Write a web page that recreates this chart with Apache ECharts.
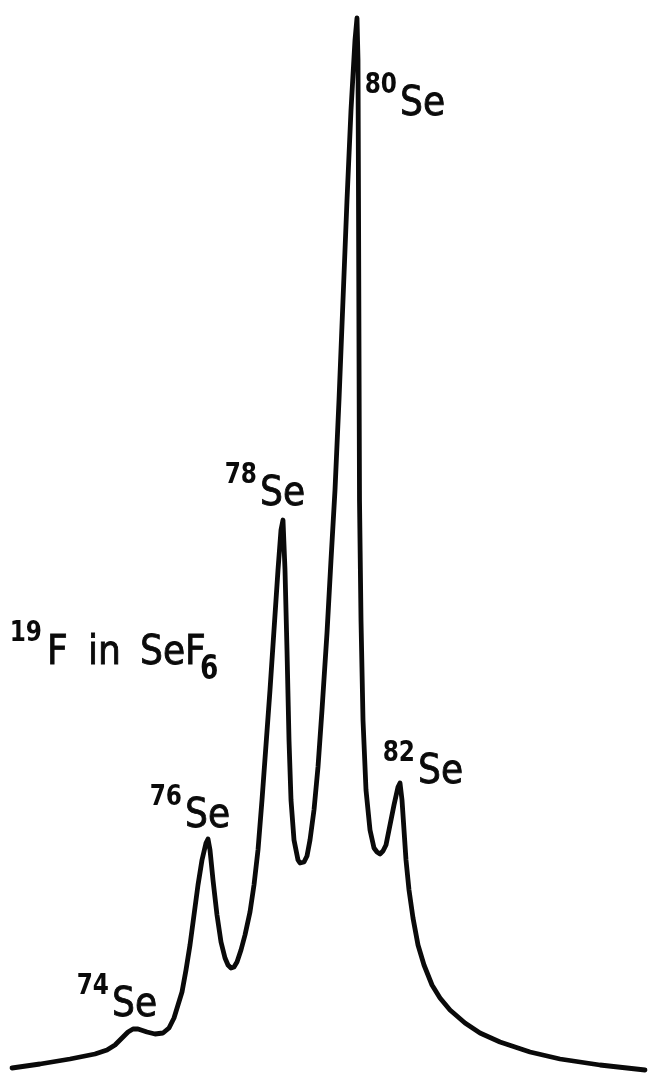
<!DOCTYPE html>
<html>
<head>
<meta charset="utf-8">
<script src="https://cdn.jsdelivr.net/npm/echarts@6/dist/echarts.min.js"></script>
<style>
  html, body { margin: 0; padding: 0; background: #ffffff; }
  #chart { width: 652px; height: 1077px; }
</style>
</head>
<body>
<div id="chart"></div>
<script>
// 19F NMR trace of SeF6: chemical shift position (arbitrary units) and signal height
const shift = [
  12, 40, 70, 95, 107, 115, 122, 128, 133, 138, 147, 155, 163, 169, 174, 178,
  182, 186, 190, 194, 198, 202, 206, 208, 210, 213, 217, 221, 225, 228, 231, 234, 237,
  241, 245, 250, 254, 258, 262, 266, 270, 274, 278, 281, 283, 285, 287, 289, 291,
  294, 298, 300, 302, 304, 307, 310, 314, 318, 322, 327, 331, 335, 339, 343, 347, 351, 355,
  357, 358, 358.5, 359, 359.5, 361, 363, 366, 370, 374, 377, 380, 383, 386, 389, 394, 398, 400,
  402, 404, 406, 409, 413, 418, 424, 432, 440, 450, 465, 480, 500, 530, 560, 600, 645
];
const signal = [
  9, 13, 18, 23, 27, 32, 39, 45, 48, 48, 45, 43, 44, 49, 59, 72,
  85, 107, 132, 162, 192, 217, 234, 238, 227, 197, 162, 135, 119, 112, 109, 110, 115,
  127, 142, 165, 192, 227, 277, 332, 387, 447, 507, 547, 557, 507, 427, 337, 277,
  237, 217, 214, 213, 215, 221, 237, 267, 310, 367, 444, 517, 587, 677, 777, 877, 967, 1037,
  1059, 1017, 877, 727, 577, 457, 357, 287, 247, 229, 225, 223, 226, 232, 247, 272, 290, 294,
  277, 247, 217, 187, 159, 132, 112, 92, 79, 67, 54, 44, 35, 25, 18, 12, 7
];

// isotope peaks (mass number, peak position, peak height)
const isotopes = ['74', '76', '78', '80', '82'];
const peakShift = [133, 208, 283, 357, 400];
const peakSignal = [48, 238, 557, 1059, 294];

// placement of each isotope label relative to its peak (px)
const labelDx = [-21, -23, -23, 43, 18];
const labelDy = [-10, -9, -12, 100, 3];

const INK = '#0a0a0a';
const FONT = "'DejaVu Sans', sans-serif";
const MAIN_SIZE = 41, SUP_SIZE = 29;
const MAIN_SCALE = 0.88, SUP_SCALE = 0.8;

const chart = echarts.init(document.getElementById('chart'), null, { renderer: 'canvas' });

chart.setOption({
  animation: false,
  backgroundColor: '#ffffff',
  grid: { left: 0, right: 0, top: 0, bottom: 0 },
  xAxis: { type: 'value', min: 0, max: 652, show: false },
  yAxis: { type: 'value', min: 0, max: 1077, show: false },
  series: [{
    type: 'line',
    data: shift.map((s, i) => [s, signal[i]]),
    showSymbol: false,
    smooth: false,
    lineStyle: { color: INK, width: 4.8, join: 'round', cap: 'round' }
  }]
});

// a text piece anchored at its left (or right) edge, vertically centred on y
function textEl(str, x, y, size, scale, align, weight, outline) {
  return {
    type: 'text',
    x: x, y: y,
    scaleX: scale,
    style: {
      x: 0, y: 0,
      text: str,
      font: (weight || 'normal') + ' ' + size + 'px ' + FONT,
      fill: INK,
      stroke: INK,
      lineWidth: outline || 0,
      align: align,
      verticalAlign: 'middle'
    },
    silent: true
  };
}

const elements = [];
isotopes.forEach((mass, i) => {
  const p = chart.convertToPixel({ gridIndex: 0 }, [peakShift[i], peakSignal[i]]);
  const left = p[0] + labelDx[i];
  const base = p[1] + labelDy[i];
  elements.push(textEl('Se', left, base - 14, MAIN_SIZE, MAIN_SCALE, 'left', 'normal', 0.9));
  elements.push(textEl(mass, left - 3, base - 33, SUP_SIZE, SUP_SCALE, 'right', 'bold'));
});

// sample caption
elements.push(textEl('19', 42, 633, SUP_SIZE, SUP_SCALE, 'right', 'bold'));
elements.push(textEl('F', 47, 667 - 14, MAIN_SIZE, MAIN_SCALE, 'left', 'normal', 0.9));
elements.push(textEl('in', 88, 667 - 14, MAIN_SIZE, MAIN_SCALE, 'left', 'normal', 0.9));
elements.push(textEl('SeF', 140, 667 - 14, MAIN_SIZE, MAIN_SCALE, 'left', 'normal', 0.9));
elements.push(textEl('6', 200, 670, 33, SUP_SCALE, 'left', 'bold'));

chart.setOption({ graphic: { elements: elements } });
</script>
</body>
</html>
